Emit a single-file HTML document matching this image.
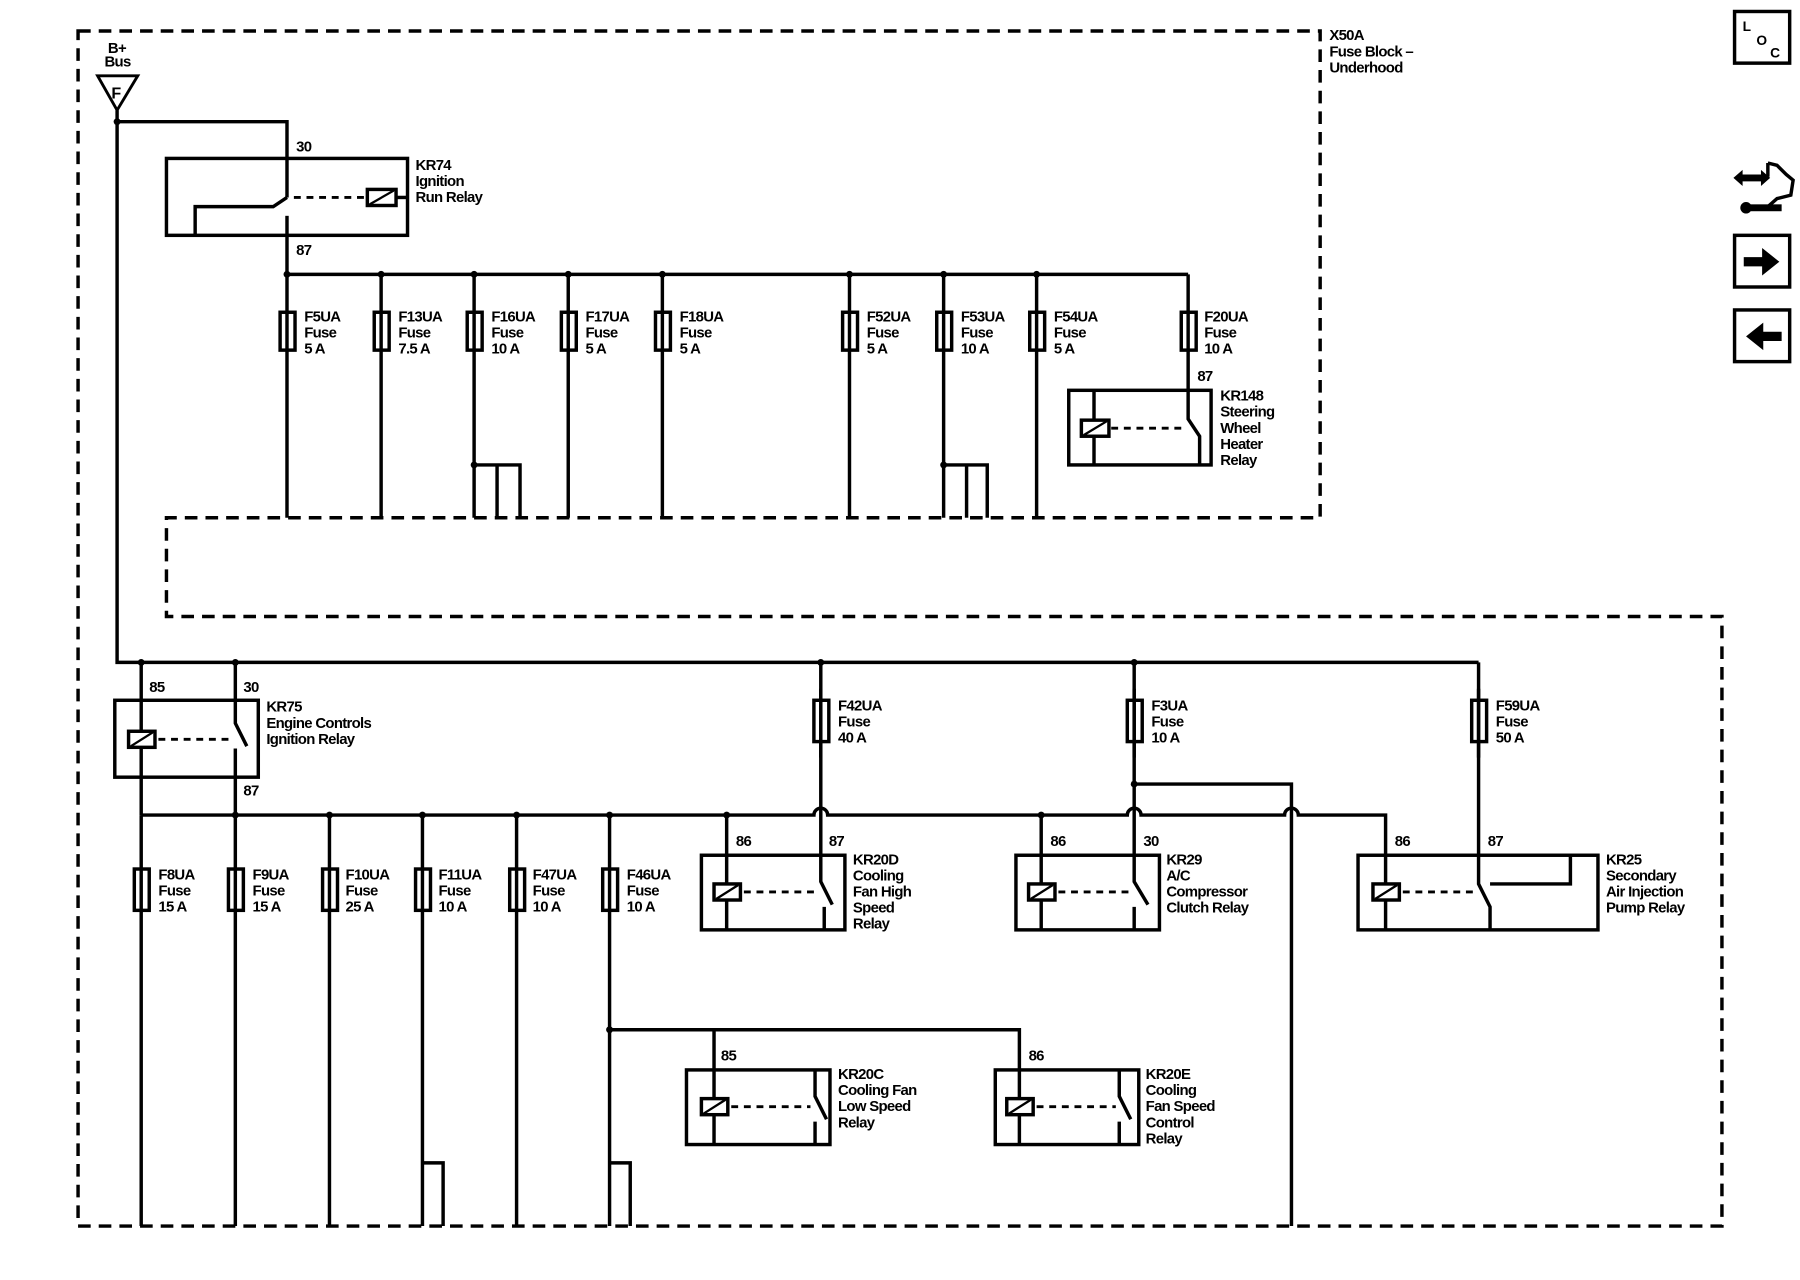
<!DOCTYPE html>
<html><head><style>
html,body{margin:0;padding:0;background:#fff;}
svg{display:block;}
text{font-family:"Liberation Sans",Arial,sans-serif;font-size:13px;font-weight:bold;letter-spacing:-0.6px;fill:#000;}
</style></head><body>
<svg width="1800" height="1280" viewBox="0 0 1568 1115" preserveAspectRatio="none" xmlns="http://www.w3.org/2000/svg">
<g fill="none" stroke="#000" stroke-width="3">
<path d="M68,27 H1150 V451 H145 V537 H1500 V1068 H68 Z" stroke-dasharray="11,7"/>
<path d="M85,66 H120 L102,96 Z" stroke-width="2.5"/>
<path d="M102,96 V577 H1288"/>
<path d="M102,106 H250 V172"/>
<rect x="145" y="138" width="210" height="67"/>
<path d="M170,205 V180 H238 L250,172"/>
<path d="M250,188 V239"/>
<path d="M256,172 H318" stroke-dasharray="6,5" stroke-width="2.5"/>
<rect x="320" y="165" width="25" height="14"/>
<path d="M322,178 L343,166" stroke-width="2"/>
<path d="M345,172 H355" />
<path d="M250,239 H1035"/>
<path d="M250,239 V451 M332,239 V451 M413,239 V451 M495,239 V451 M577,239 V451 M740,239 V451 M822,239 V451 M903,239 V451 M1035,239 V365 L1045,380 V405"/>
<path d="M413,405 H453 V451 M433,405 V451 M822,405 H860 V451 M842,405 V451"/>
<g fill="#fff">
<rect x="244" y="272" width="13" height="33"/><rect x="326" y="272" width="13" height="33"/><rect x="407" y="272" width="13" height="33"/><rect x="489" y="272" width="13" height="33"/><rect x="571" y="272" width="13" height="33"/><rect x="734" y="272" width="13" height="33"/><rect x="816" y="272" width="13" height="33"/><rect x="897" y="272" width="13" height="33"/><rect x="1029" y="272" width="13" height="33"/>
</g>
<path d="M250,272 V305 M332,272 V305 M413,272 V305 M495,272 V305 M577,272 V305 M740,272 V305 M822,272 V305 M903,272 V305 M1035,272 V305"/>
<rect x="931" y="340" width="124" height="65"/>
<path d="M953,340 V405"/>
<rect x="942" y="366" width="24" height="14" fill="#fff"/>
<path d="M944,379 L964,367" stroke-width="2"/>
<path d="M968,373 H1033" stroke-dasharray="6,5" stroke-width="2.5"/>
<rect x="100" y="610" width="125" height="67"/>
<path d="M123,577 V710 M205,577 V630 L215,650 M205,652 V710"/>
<rect x="112" y="637" width="23" height="14" fill="#fff"/>
<path d="M114,650 L133,638" stroke-width="2"/>
<path d="M138,644 H203" stroke-dasharray="6,5" stroke-width="2.5"/>
<path d="M123,710 H709 A6,6 0 0 1 721,710 H982 A6,6 0 0 1 994,710 H1119 A6,6 0 0 1 1131,710 H1207 V745"/>
<path d="M123,710 V1068 M205,710 V1068 M287,710 V1068 M368,710 V1068 M450,710 V1068 M531,710 V1068"/>
<path d="M368,1013 H386 V1068 M531,1013 H549 V1068"/>
<g fill="#fff">
<rect x="117" y="757" width="13" height="36"/><rect x="199" y="757" width="13" height="36"/><rect x="281" y="757" width="13" height="36"/><rect x="362" y="757" width="13" height="36"/><rect x="444" y="757" width="13" height="36"/><rect x="525" y="757" width="13" height="36"/>
<rect x="709" y="610" width="13" height="36"/><rect x="982" y="610" width="13" height="36"/><rect x="1282" y="610" width="13" height="36"/>
</g>
<path d="M123,757 V793 M205,757 V793 M287,757 V793 M368,757 V793 M450,757 V793 M531,757 V793"/>
<path d="M715,577 V745 M988,577 V745 M988,683 H1125 V1068 M1288,577 V770 L1298,790 V810 M1298,770 H1368 V745"/>
<path d="M715,600 V660 M988,600 V660 M1288,600 V660"/>
<rect x="611" y="745" width="125" height="65"/>
<path d="M633,710 V810"/>
<path d="M715,745 V768 L725,788 M718,790 V810" />
<rect x="622" y="770" width="23" height="14" fill="#fff"/><path d="M624,783 L643,771" stroke-width="2"/>
<path d="M648,777 H712" stroke-dasharray="6,5" stroke-width="2.5"/>
<rect x="885" y="745" width="125" height="65"/>
<path d="M907,710 V810"/>
<path d="M988,745 V768 L1000,788 M988,790 V810"/>
<rect x="896" y="770" width="23" height="14" fill="#fff"/><path d="M898,783 L917,771" stroke-width="2"/>
<path d="M922,777 H985" stroke-dasharray="6,5" stroke-width="2.5"/>
<rect x="1183" y="745" width="209" height="65"/>
<path d="M1207,745 V810"/>
<rect x="1196" y="770" width="23" height="14" fill="#fff"/><path d="M1198,783 L1217,771" stroke-width="2"/>
<path d="M1222,777 H1287" stroke-dasharray="6,5" stroke-width="2.5"/>
<path d="M531,897 H888 V997 M622,897 V997"/>
<rect x="598" y="932" width="125" height="65"/>
<path d="M710,932 V955 L720,975 M710,977 V997"/>
<rect x="611" y="957" width="23" height="14" fill="#fff"/><path d="M613,970 L632,958" stroke-width="2"/>
<path d="M637,964 H706" stroke-dasharray="6,5" stroke-width="2.5"/>
<rect x="867" y="932" width="125" height="65"/>
<path d="M975,932 V955 L985,975 M975,977 V997"/>
<rect x="877" y="957" width="23" height="14" fill="#fff"/><path d="M879,970 L898,958" stroke-width="2"/>
<path d="M903,964 H972" stroke-dasharray="6,5" stroke-width="2.5"/>
<rect x="1511" y="10" width="48" height="45"/>
<rect x="1511" y="205" width="48" height="45"/>
<rect x="1511" y="270" width="48" height="45"/>
<path d="M1540,142 L1548,144 L1556,152 L1562,157 L1560,170 L1548,173 L1540,180 L1526,180 M1540,142 V154" stroke-width="3"/>
</g>
<g fill="#000">
<circle cx="250" cy="239" r="3"/><circle cx="332" cy="239" r="3"/><circle cx="413" cy="239" r="3"/><circle cx="495" cy="239" r="3"/><circle cx="577" cy="239" r="3"/><circle cx="740" cy="239" r="3"/><circle cx="822" cy="239" r="3"/><circle cx="903" cy="239" r="3"/>
<circle cx="413" cy="405" r="3"/><circle cx="822" cy="405" r="3"/><circle cx="102" cy="106" r="3"/>
<circle cx="123" cy="577" r="3"/><circle cx="205" cy="577" r="3"/><circle cx="715" cy="577" r="3"/><circle cx="988" cy="577" r="3"/>
<circle cx="205" cy="710" r="3"/><circle cx="287" cy="710" r="3"/><circle cx="368" cy="710" r="3"/><circle cx="450" cy="710" r="3"/><circle cx="531" cy="710" r="3"/><circle cx="633" cy="710" r="3"/><circle cx="907" cy="710" r="3"/>
<circle cx="988" cy="683" r="3"/><circle cx="531" cy="897" r="3"/>
<path d="M1519,224 H1535 V216 L1550,228 L1535,240 V232 H1519 Z"/>
<path d="M1552,289 H1536 V281 L1521,293 L1536,305 V297 H1552 Z"/>
<path d="M1510,155 L1518,148 V152 H1534 V148 L1542,155 L1534,162 V158 H1518 V162 Z"/>
<rect x="1522" y="178" width="30" height="6"/><circle cx="1521" cy="181" r="5"/>
</g>
<g>
<text x="94" y="46">B+</text><text x="91" y="58">Bus</text>
<text x="97" y="86" style="font-size:14px">F</text>
<text x="1158" y="35">X50A</text><text x="1158" y="49">Fuse Block –</text><text x="1158" y="63">Underhood</text>
<text x="258" y="132">30</text><text x="258" y="222">87</text>
<text x="362" y="148">KR74</text><text x="362" y="162">Ignition</text><text x="362" y="176">Run Relay</text>
<text x="265" y="280">F5UA</text><text x="265" y="294">Fuse</text><text x="265" y="308">5 A</text>
<text x="347" y="280">F13UA</text><text x="347" y="294">Fuse</text><text x="347" y="308">7.5 A</text>
<text x="428" y="280">F16UA</text><text x="428" y="294">Fuse</text><text x="428" y="308">10 A</text>
<text x="510" y="280">F17UA</text><text x="510" y="294">Fuse</text><text x="510" y="308">5 A</text>
<text x="592" y="280">F18UA</text><text x="592" y="294">Fuse</text><text x="592" y="308">5 A</text>
<text x="755" y="280">F52UA</text><text x="755" y="294">Fuse</text><text x="755" y="308">5 A</text>
<text x="837" y="280">F53UA</text><text x="837" y="294">Fuse</text><text x="837" y="308">10 A</text>
<text x="918" y="280">F54UA</text><text x="918" y="294">Fuse</text><text x="918" y="308">5 A</text>
<text x="1049" y="280">F20UA</text><text x="1049" y="294">Fuse</text><text x="1049" y="308">10 A</text>
<text x="1043" y="332">87</text>
<text x="1063" y="349">KR148</text><text x="1063" y="363">Steering</text><text x="1063" y="377">Wheel</text><text x="1063" y="391">Heater</text><text x="1063" y="405">Relay</text>
<text x="130" y="603">85</text><text x="212" y="603">30</text><text x="212" y="693">87</text>
<text x="232" y="620">KR75</text><text x="232" y="634">Engine Controls</text><text x="232" y="648">Ignition Relay</text>
<text x="730" y="619">F42UA</text><text x="730" y="633">Fuse</text><text x="730" y="647">40 A</text>
<text x="1003" y="619">F3UA</text><text x="1003" y="633">Fuse</text><text x="1003" y="647">10 A</text>
<text x="1303" y="619">F59UA</text><text x="1303" y="633">Fuse</text><text x="1303" y="647">50 A</text>
<text x="138" y="766">F8UA</text><text x="138" y="780">Fuse</text><text x="138" y="794">15 A</text>
<text x="220" y="766">F9UA</text><text x="220" y="780">Fuse</text><text x="220" y="794">15 A</text>
<text x="301" y="766">F10UA</text><text x="301" y="780">Fuse</text><text x="301" y="794">25 A</text>
<text x="382" y="766">F11UA</text><text x="382" y="780">Fuse</text><text x="382" y="794">10 A</text>
<text x="464" y="766">F47UA</text><text x="464" y="780">Fuse</text><text x="464" y="794">10 A</text>
<text x="546" y="766">F46UA</text><text x="546" y="780">Fuse</text><text x="546" y="794">10 A</text>
<text x="641" y="737">86</text><text x="722" y="737">87</text>
<text x="743" y="753">KR20D</text><text x="743" y="767">Cooling</text><text x="743" y="781">Fan High</text><text x="743" y="795">Speed</text><text x="743" y="809">Relay</text>
<text x="915" y="737">86</text><text x="996" y="737">30</text>
<text x="1016" y="753">KR29</text><text x="1016" y="767">A/C</text><text x="1016" y="781">Compressor</text><text x="1016" y="795">Clutch Relay</text>
<text x="1215" y="737">86</text><text x="1296" y="737">87</text>
<text x="1399" y="753">KR25</text><text x="1399" y="767">Secondary</text><text x="1399" y="781">Air Injection</text><text x="1399" y="795">Pump Relay</text>
<text x="628" y="924">85</text><text x="896" y="924">86</text>
<text x="730" y="940">KR20C</text><text x="730" y="954">Cooling Fan</text><text x="730" y="968">Low Speed</text><text x="730" y="982">Relay</text>
<text x="998" y="940">KR20E</text><text x="998" y="954">Cooling</text><text x="998" y="968">Fan Speed</text><text x="998" y="982">Control</text><text x="998" y="996">Relay</text>
<text x="1518" y="27" style="font-size:12px">L</text><text x="1530" y="39" style="font-size:12px">O</text><text x="1542" y="50" style="font-size:12px">C</text>
</g>
</svg>
</body></html>
